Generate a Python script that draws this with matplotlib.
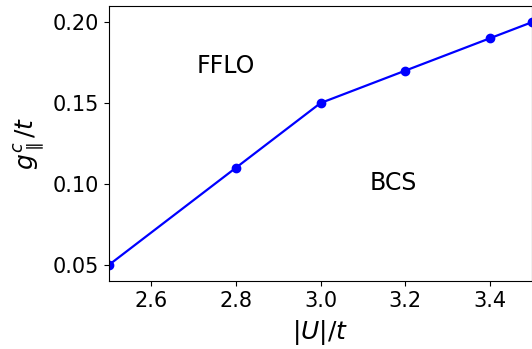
import matplotlib
matplotlib.use("Agg")
import matplotlib.pyplot as plt

# phase boundary data
U = [2.5, 2.8, 3.0, 3.2, 3.4, 3.5]
g = [0.05, 0.11, 0.15, 0.17, 0.19, 0.20]

fig = plt.figure(figsize=(5.32, 3.49), dpi=100)
ax = fig.add_axes([0.2049, 0.1948, 0.7951, 0.788])
ax.plot(U, g, 'o-', color='blue', markersize=6, linewidth=1.6)
ax.set_xlim(2.5, 3.5)
ax.set_ylim(0.04, 0.21)
ax.set_xticks([2.6, 2.8, 3.0, 3.2, 3.4])
ax.set_yticks([0.05, 0.10, 0.15, 0.20])
ax.tick_params(labelsize=15)
ax.set_xlabel(r'$|U|/t$', fontsize=18, labelpad=5)
ax.set_ylabel(r'$g_{\parallel}^{c}/t$', fontsize=18)
ax.text(2.708, 0.1728, 'FFLO', fontsize=17, va='center')
ax.text(3.115, 0.1006, 'BCS', fontsize=17, va='center')

fig.savefig('out.png', dpi=100)
